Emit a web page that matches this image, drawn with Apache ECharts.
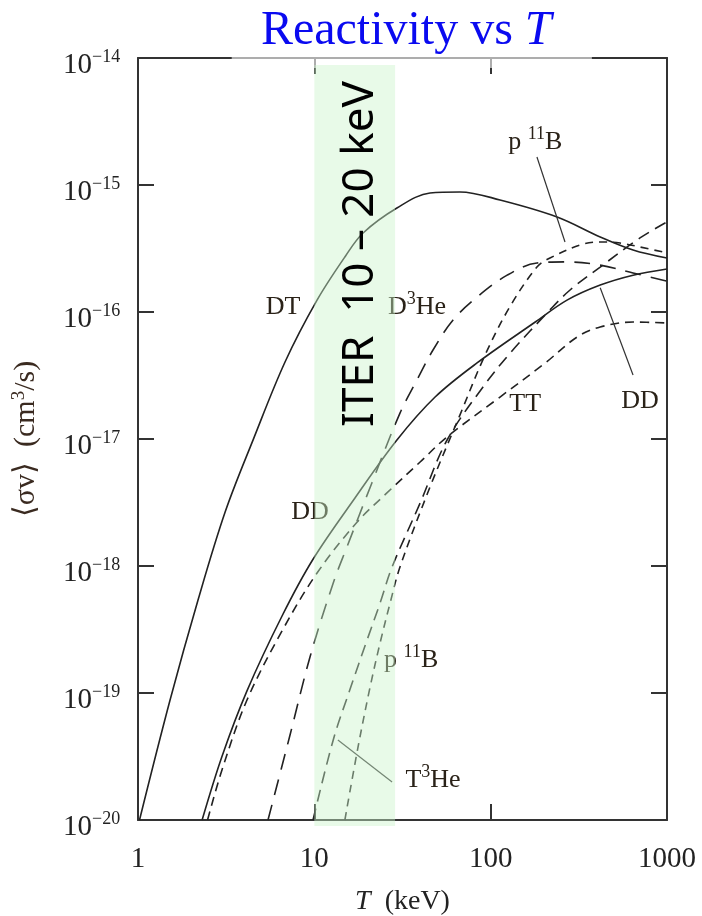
<!DOCTYPE html>
<html><head><meta charset="utf-8">
<script src="https://cdn.jsdelivr.net/npm/echarts@6/dist/echarts.min.js"></script>
<style>html,body{margin:0;padding:0;background:#fff}#c{width:702px;height:916px}</style>
</head><body><div id="c"></div>
<script>
// ---- data (T in keV, <sigma v> in cm^3/s) ----
const dtT   = [1.02, 1.52, 2.19, 3.12, 4.49, 6.82, 10.36, 15.0, 18.9, 29.4, 45.3, 67.0, 113, 238, 418, 642, 1000];
const dtSV  = [1.0e-20, 8.8e-20, 5.4e-19, 2.66e-18, 9.8e-18, 4.04e-17, 1.24e-16, 2.75e-16, 4.19e-16, 6.59e-16, 8.65e-16, 8.81e-16, 7.62e-16, 5.60e-16, 3.90e-16, 3.08e-16, 2.66e-16];
const ddT   = [2.31, 3.0, 4.15, 6.56, 9.83, 17.0, 29.4, 48.4, 83.7, 179, 271, 418, 642, 1000];
const ddSV  = [1.0e-20, 3.19e-20, 1.04e-19, 4.04e-19, 1.13e-18, 3.43e-18, 9.82e-18, 2.14e-17, 3.97e-17, 8.34e-17, 1.24e-16, 1.63e-16, 1.95e-16, 2.18e-16];
const ttT   = [2.48, 3.0, 4.15, 6.56, 10.36, 17.5, 25.8, 39.8, 56.6, 113, 204, 309, 418, 642, 1000];
const ttSV  = [1.0e-20, 2.5e-20, 8.8e-20, 3.08e-19, 8.8e-19, 2.22e-18, 3.76e-18, 6.59e-18, 1.04e-17, 2.14e-17, 3.97e-17, 6.35e-17, 7.62e-17, 8.34e-17, 8.19e-17];
const dheT  = [5.46, 7.28, 9.45, 12.8, 15.3, 21.2, 30.6, 38.2, 47.1, 61.2, 83.7, 124, 183, 271, 418, 642, 1000];
const dheSV = [1.0e-20, 4.67e-20, 1.92e-19, 7.35e-19, 1.41e-18, 4.51e-18, 1.60e-17, 2.92e-17, 5.02e-17, 8.65e-17, 1.31e-16, 1.95e-16, 2.43e-16, 2.48e-16, 2.34e-16, 2.03e-16, 1.75e-16];
const theT  = [9.83, 12.8, 15.9, 19.9, 23.6, 27.6, 39.8, 56.6, 90.5, 129, 217, 282, 418, 703, 1000];
const theSV = [1.0e-20, 4.27e-20, 1.06e-19, 2.61e-19, 5.11e-19, 9.82e-19, 3.13e-18, 9.82e-18, 2.57e-17, 4.75e-17, 1.04e-16, 1.49e-16, 2.26e-16, 3.83e-16, 5.12e-16];
const pbT   = [14.9, 17.7, 20.7, 23.6, 26.9, 30.6, 45.3, 67.0, 92.9, 129, 183, 217, 334, 434, 542, 703, 1000];
const pbSV  = [1.0e-20, 3.76e-20, 1.11e-19, 2.48e-19, 5.11e-19, 9.82e-19, 4.19e-18, 1.55e-17, 4.58e-17, 1.11e-16, 2.26e-16, 2.66e-16, 3.43e-16, 3.56e-16, 3.49e-16, 3.25e-16, 2.92e-16];

const xTicks = [1, 10, 100, 1000];
const yTicks = [1e-20, 1e-19, 1e-18, 1e-17, 1e-16, 1e-15, 1e-14];
const bandRange = [10, 28.7];          // highlighted ITER band (keV)
const titleText = 'Reactivity vs ';
const bandText = 'ITER  10 \u2013 20 keV';

// annotation anchors in data coordinates [T, sigma v]
const labels = [
  {text: '{n|DT}', at: [6.64, 1.09e-16]},
  {text: '{n|D}{s|3}{n|He}', at: [38.2, 1.09e-16]},
  {text: '{n|DD}', at: [9.45, 2.66e-18]},
  {text: '{n|p }{s|11}{n|B}', at: [179, 2.18e-15]},
  {text: '{n|TT}', at: [157, 1.89e-17]},
  {text: '{n|DD}', at: [703, 1.99e-17]},
  {text: '{n|p }{s|11}{n|B}', at: [35.4, 1.82e-19]},
  {text: '{n|T}{s|3}{n|He}', at: [47.1, 2.07e-20]}
];
const leaders = [
  [[183, 1.66e-15], [264, 3.56e-16]],
  [[418, 1.55e-16], [642, 3.19e-17]],
  [[13.6, 4.27e-20], [27.6, 1.99e-20]]
];

const SERIF = '"Liberation Serif","Times New Roman",serif';
const INK = '#222';
const zip = (t, v) => t.map((x, i) => [x, v[i]]);

const curves = [
  {name: 'DT', t: dtT, v: dtSV, type: 'solid'},
  {name: 'DD', t: ddT, v: ddSV, type: 'solid'},
  {name: 'TT', t: ttT, v: ttSV, type: [9, 6]},
  {name: 'D3He', t: dheT, v: dheSV, type: [16, 10]},
  {name: 'T3He', t: theT, v: theSV, type: [12, 7]},
  {name: 'p11B', t: pbT, v: pbSV, type: [8, 6]}
];

const chart = echarts.init(document.getElementById('c'));

const baseAxis = {
  type: 'log', logBase: 10, gridIndex: 0,
  axisLine: {show: true, lineStyle: {color: '#333', width: 2}},
  axisTick: {show: true, inside: true, length: 16, lineStyle: {color: '#333', width: 2}},
  minorTick: {show: false}, splitLine: {show: false}, minorSplitLine: {show: false}
};

chart.setOption({
  animation: false,
  backgroundColor: '#fff',
  grid: {left: 138, top: 58, right: 35, bottom: 96, containLabel: false, outerBoundsMode: 'none'},
  xAxis: [
    Object.assign({}, baseAxis, {
      min: xTicks[0], max: xTicks[xTicks.length - 1], splitNumber: 3, position: 'bottom',
      axisLabel: {margin: 25, fontFamily: SERIF, fontSize: 29, color: INK,
        formatter: v => String(Math.round(v))},
      name: '{i|T}  (keV)', nameLocation: 'middle', nameGap: 68,
      nameTextStyle: {fontFamily: SERIF, fontSize: 28, color: INK, verticalAlign: 'top',
        rich: {i: {fontStyle: 'italic', fontFamily: SERIF, fontSize: 28, color: INK}}}
    }),
    Object.assign({}, baseAxis, {
      min: xTicks[0], max: xTicks[xTicks.length - 1], splitNumber: 3, position: 'top',
      axisLabel: {show: false}
    })
  ],
  yAxis: [
    Object.assign({}, baseAxis, {
      min: yTicks[0], max: yTicks[yTicks.length - 1], splitNumber: 6, position: 'left',
      axisLabel: {show: false},
      name: '\u27E8\u03C3v\u27E9  (cm{u|3}/s)', nameLocation: 'middle', nameGap: 96,
      nameTextStyle: {fontFamily: SERIF, fontSize: 30, color: '#3a2a20',
        rich: {u: {fontFamily: SERIF, fontSize: 19, color: '#3a2a20', padding: [0, 0, 13, 0]}}}
    }),
    Object.assign({}, baseAxis, {
      min: yTicks[0], max: yTicks[yTicks.length - 1], splitNumber: 6, position: 'right',
      axisLabel: {show: false}
    })
  ],
  series: curves.map(c => ({
    name: c.name, type: 'line', xAxisIndex: 0, yAxisIndex: 0,
    data: zip(c.t, c.v), showSymbol: false, symbol: 'none',
    smooth: 0.35, clip: true,
    lineStyle: {color: '#222', width: 1.6, type: c.type}
  }))
});

const P = (t, v) => chart.convertToPixel({xAxisIndex: 0, yAxisIndex: 0}, [t, v]);

const g = [];
// y tick labels 10^n
yTicks.forEach(v => {
  const p = P(xTicks[0], v);
  const e = Math.round(Math.log10(v));
  g.push({type: 'text', x: p[0] - 46, y: p[1] + 7, z: 40, silent: true,
    style: {text: '10', fontFamily: SERIF, fontSize: 29, fill: INK, align: 'right', verticalAlign: 'middle'}});
  g.push({type: 'text', x: p[0] - 46, y: p[1] - 1, z: 40, silent: true,
    style: {text: '\u2212' + (-e), fontFamily: SERIF, fontSize: 18, fill: INK, align: 'left', verticalAlign: 'middle'}});
});
// labels
const labelRich = {
  n: {fontFamily: SERIF, fontSize: 26, fill: '#2a2218'},
  s: {fontFamily: SERIF, fontSize: 18, fill: '#2a2218', padding: [0, 0, 16, 0]}
};
labels.forEach(l => {
  const p = P(l.at[0], l.at[1]);
  g.push({type: 'text', x: p[0], y: p[1], z: 50, silent: true,
    style: {text: l.text, rich: labelRich, align: 'center', verticalAlign: 'middle',
      fontFamily: SERIF, fontSize: 26, fill: '#2a2218'}});
});
leaders.forEach(s => {
  const a = P(s[0][0], s[0][1]), b = P(s[1][0], s[1][1]);
  g.push({type: 'line', z: 50, silent: true,
    shape: {x1: a[0], y1: a[1], x2: b[0], y2: b[1]},
    style: {stroke: '#333', lineWidth: 1.2}});
});
// faded top border under the title
const tl = P(3.4, 1e-14), tr = P(375, 1e-14);
g.push({type: 'rect', z: 60, silent: true,
  shape: {x: tl[0], y: tl[1] - 20, width: tr[0] - tl[0], height: 30},
  style: {fill: 'rgba(255,255,255,0.6)'}});
// ITER band
const b1 = P(bandRange[0], 8.8e-15), b2 = P(bandRange[1], 8.97e-21);
g.push({type: 'rect', z: 100, silent: true,
  shape: {x: b1[0], y: b1[1], width: b2[0] - b1[0], height: b2[1] - b1[1]},
  style: {fill: 'rgba(201,243,201,0.43)'}});
const tp = P(18.2, 2.86e-16);
g.push({type: 'text', x: tp[0], y: tp[1], rotation: Math.PI / 2, z: 110, silent: true,
  style: {text: bandText, font: '44px "Noto Sans", sans-serif', fill: '#000',
    align: 'center', verticalAlign: 'middle'}});
// title
const tc = P(Math.sqrt(xTicks[0] * xTicks[3]) * 1.05, 1e-14);
g.push({type: 'text', x: tc[0], y: 31, z: 120, silent: true,
  style: {text: '{r|' + titleText + '}{i|T}', align: 'center', verticalAlign: 'middle',
    rich: {
      r: {fontFamily: SERIF, fontSize: 48, fill: '#0a0af0'},
      i: {fontFamily: SERIF, fontSize: 48, fontStyle: 'italic', fill: '#0a0af0'}
    }}});
chart.setOption({graphic: {elements: g}});
</script>
</body></html>
